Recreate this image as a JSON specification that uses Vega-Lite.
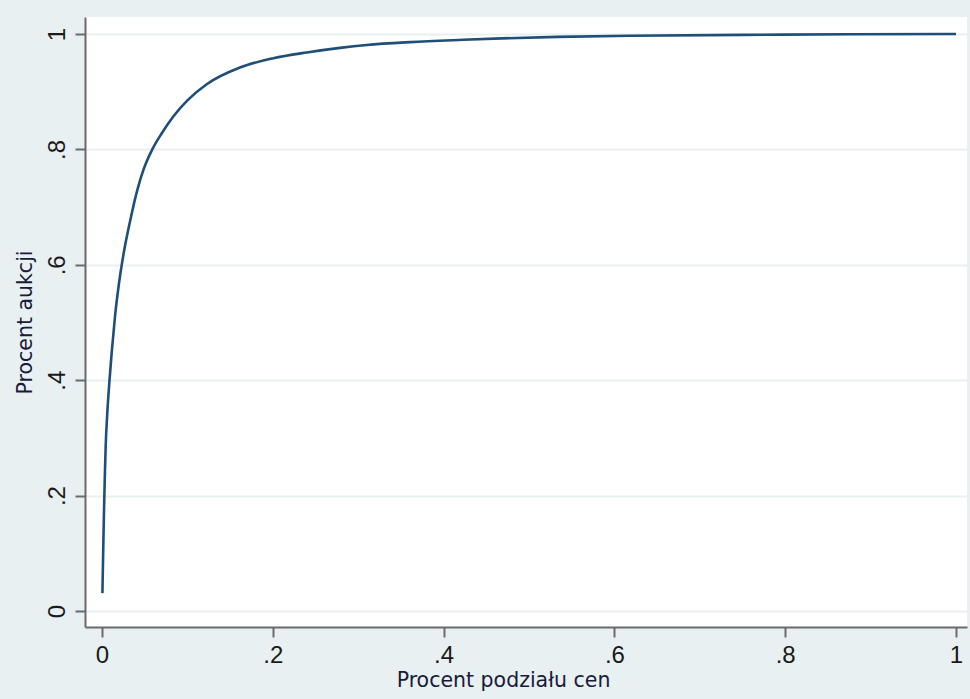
{
  "$schema": "https://vega.github.io/schema/vega-lite/v6.json",
  "width": 882,
  "height": 610,
  "autosize": {"type": "none"},
  "padding": {"left": 85, "top": 17, "right": 3, "bottom": 72},
  "background": "#e8f0f2",
  "view": {"fill": "#ffffff", "stroke": null},
  "data": {
    "values": [
      {"x": 0.0005, "y": 0.031},
      {"x": 0.0015, "y": 0.111},
      {"x": 0.0023, "y": 0.170},
      {"x": 0.0032, "y": 0.227},
      {"x": 0.0043, "y": 0.285},
      {"x": 0.0062, "y": 0.343},
      {"x": 0.0088, "y": 0.400},
      {"x": 0.0116, "y": 0.452},
      {"x": 0.0152, "y": 0.510},
      {"x": 0.0199, "y": 0.568},
      {"x": 0.0261, "y": 0.626},
      {"x": 0.0335, "y": 0.680},
      {"x": 0.0414, "y": 0.730},
      {"x": 0.0484, "y": 0.764},
      {"x": 0.0589, "y": 0.800},
      {"x": 0.0700, "y": 0.828},
      {"x": 0.0835, "y": 0.857},
      {"x": 0.1000, "y": 0.885},
      {"x": 0.1226, "y": 0.913},
      {"x": 0.1616, "y": 0.942},
      {"x": 0.2006, "y": 0.958},
      {"x": 0.2397, "y": 0.968},
      {"x": 0.2787, "y": 0.976},
      {"x": 0.3100, "y": 0.981},
      {"x": 0.3610, "y": 0.986},
      {"x": 0.4230, "y": 0.990},
      {"x": 0.4680, "y": 0.9925},
      {"x": 0.5340, "y": 0.995},
      {"x": 0.6180, "y": 0.997},
      {"x": 0.7500, "y": 0.9985},
      {"x": 0.8740, "y": 0.9995},
      {"x": 1.0000, "y": 1.0}
    ]
  },
  "mark": {"type": "line", "color": "#1f4e79", "strokeWidth": 2.6, "interpolate": "monotone", "clip": true},
  "encoding": {
    "x": {
      "field": "x",
      "type": "quantitative",
      "scale": {"domain": [-0.0199, 1.0129], "nice": false, "zero": false},
      "axis": {
        "title": "Procent podziału cen",
        "values": [0, 0.2, 0.4, 0.6, 0.8, 1],
        "labelExpr": "datum.value == 0 ? '0' : datum.value == 1 ? '1' : replace(format(datum.value, '.1f'), '0.', '.')",
        "grid": false,
        "domainColor": "#6b6b6b",
        "domainWidth": 2,
        "tickColor": "#6b6b6b",
        "tickWidth": 2,
        "tickSize": 10,
        "labelFont": "Liberation Sans",
        "labelFontSize": 24,
        "labelColor": "#1a1a1a",
        "labelPadding": 6,
        "titleFont": "DejaVu Sans",
        "titleFontSize": 20.5,
        "titleFontWeight": "normal",
        "titleColor": "#1a1a3a",
        "titlePadding": 3,
        "titleX": 418
      }
    },
    "y": {
      "field": "y",
      "type": "quantitative",
      "scale": {"domain": [-0.0277, 1.0295], "nice": false, "zero": false},
      "axis": {
        "title": "Procent aukcji",
        "values": [0, 0.2, 0.4, 0.6, 0.8, 1],
        "labelExpr": "datum.value == 0 ? '0' : datum.value == 1 ? '1' : replace(format(datum.value, '.1f'), '0.', '.')",
        "labelAngle": 270,
        "grid": true,
        "gridColor": "#e9f0f0",
        "gridWidth": 2,
        "domainColor": "#6b6b6b",
        "domainWidth": 2,
        "tickColor": "#6b6b6b",
        "tickWidth": 2,
        "tickSize": 10,
        "labelFont": "Liberation Sans",
        "labelFontSize": 24,
        "labelColor": "#1a1a1a",
        "labelPadding": 6,
        "titleFont": "DejaVu Sans",
        "titleFontSize": 20.5,
        "titleFontWeight": "normal",
        "titleColor": "#1a1a3a",
        "titlePadding": 10
      }
    }
  }
}
